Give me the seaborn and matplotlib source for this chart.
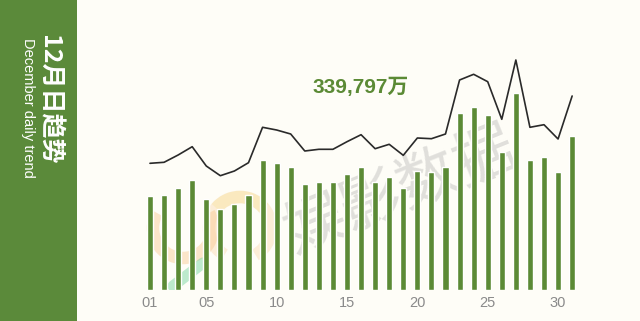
import matplotlib
matplotlib.use("Agg")
import matplotlib.pyplot as plt
import seaborn as sns
import pandas as pd
import numpy as np
from matplotlib.patches import Rectangle, Arc
from matplotlib.transforms import IdentityTransform

days = [f"{d:02d}" for d in range(1, 32)]
bar_values = [94, 95, 101.7, 110.3, 91, 81.3, 86.3, 95, 129.7, 126.7, 123,
              105.7, 107.7, 107.7, 116.3, 123.3, 108.3, 113.3, 101.7, 119.3,
              118, 123, 177.3, 183, 175, 138.3, 196.7, 129.7, 132.7, 118, 154]
line_values = [126.7, 127.7, 135, 143.3, 124, 114.3, 119, 127.3, 162.7, 160,
               156, 139, 140.7, 140.7, 148.3, 155.3, 141.3, 145.7, 134.7, 152,
               151.3, 156, 210, 215.7, 208.3, 170.7, 230, 162.7, 165.3, 151, 194]
tick_labels = ["01", "05", "10", "15", "20", "25", "30"]
total_label = "339,797万"
title_cn = "12月日趋势"
title_en = "December daily trend"

sns.set_theme(style="white")
plt.rcParams["font.family"] = ["Liberation Sans", "Noto Sans CJK SC", "DejaVu Sans"]

bg = "#fefdf7"
green = "#5b8a35"
panel_green = "#5b8a3a"

fig = plt.figure(figsize=(6.4, 3.21), dpi=100, facecolor=bg)
W, H = 640, 321
ax = fig.add_axes([130 / W, (H - 290) / H, 470 / W, 250 / H])
ax.set_facecolor("none")

df = pd.DataFrame({"day": days, "bar": bar_values, "line": line_values, "pos": np.arange(len(days))})

# faint logo watermark (behind bars)
idt = IdentityTransform()
ax.add_patch(Arc((183, H - 228), 60, 60, theta1=150, theta2=390, transform=idt,
                 color="#f6b060", alpha=0.3, lw=9, zorder=1))
ax.add_patch(Arc((240, H - 228), 62, 62, theta1=-60, theta2=240, transform=idt,
                 color="#f8c890", alpha=0.3, lw=9, zorder=1))
ax.add_patch(Arc((240, H - 228), 62, 62, theta1=40, theta2=140, transform=idt,
                 color="#f7e08a", alpha=0.3, lw=9, zorder=1))
ax.plot([173, 203], [H - 286, H - 263], transform=idt, color="#6fd49a", alpha=0.45,
        lw=8, solid_capstyle="round", zorder=1)

sns.barplot(data=df, x="day", y="bar", color=green, saturation=1, width=0.43, ax=ax, zorder=2)
sns.lineplot(data=df, x="pos", y="line", color="#2a2a2a", linewidth=1.2, ax=ax, zorder=3)

ax.set_xlim(-1.42, 31.98)
ax.set_ylim(0, 250)
ticks = [days.index(t) for t in tick_labels]
ax.set_xticks(ticks)
ax.set_xticklabels(tick_labels, color="#8a8a8a", fontsize=10.5)
ax.tick_params(axis="x", length=0, pad=4)
ax.set_yticks([])
ax.set_xlabel("")
ax.set_ylabel("")
for s in ax.spines.values():
    s.set_visible(False)

ax.text(15.0, 203, total_label, ha="center", va="center", fontsize=15,
        fontweight="bold", color=green, family=["Liberation Sans", "Noto Sans CJK SC"], zorder=4)

# watermark text
ax.text(17.8, 98, "娱影数据", ha="center", va="center", fontsize=44, rotation=22,
        color="#9a9a9a", alpha=0.3, family=["Noto Sans CJK SC"], zorder=1)

# left panel
fig.patches.append(Rectangle((0, 0), 77 / W, 1, transform=fig.transFigure,
                             facecolor=panel_green, edgecolor="none", zorder=0))
fig.text(49 / W, 1 - 100 / H, title_cn, rotation=270, ha="center", va="center",
         fontsize=18, fontweight="bold", color="white",
         family=["Noto Sans CJK SC", "DejaVu Sans"])
fig.text(28 / W, 1 - 108 / H, title_en, rotation=270, ha="center", va="center",
         fontsize=10.5, color="white", family=["Liberation Sans"])

fig.savefig("out.png", dpi=100, facecolor=bg)
